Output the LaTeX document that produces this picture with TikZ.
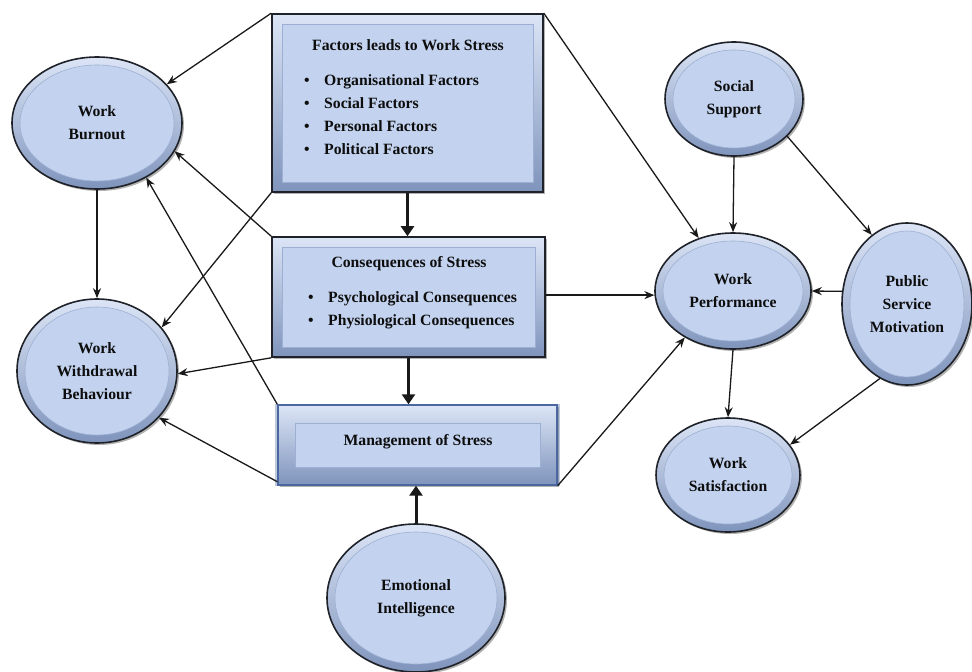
\documentclass[tikz,border=0pt]{standalone}
\usepackage{fontspec}
\setmainfont{Liberation Serif}
\usetikzlibrary{arrows.meta,shadows,calc,shapes.geometric}

\definecolor{face}{HTML}{C3D3EF}
\definecolor{rimlight}{HTML}{DCE5F6}
\definecolor{rimdark}{HTML}{7F94BC}
\definecolor{edge}{HTML}{1F2228}
\definecolor{hairline}{HTML}{9DB0D3}
\definecolor{blueedge}{HTML}{4A67A0}

\tikzset{
  labeltext/.style={font=\bfseries\fontsize{15.7}{23}\selectfont, text=black!95, inner sep=0pt},
  bubble/.style={ellipse, draw=edge, line width=1.6pt, top color=rimlight, bottom color=rimdark,
    drop shadow={shadow xshift=2pt, shadow yshift=-2pt, opacity=.3, fill=black}, inner sep=0pt},
  bubface/.style={ellipse, fill=face, draw=hairline, line width=.6pt, inner sep=0pt,
    labeltext, align=center},
  panel/.style={rectangle, draw=edge, line width=1.6pt, top color=rimlight, bottom color=rimdark,
    drop shadow={shadow xshift=2pt, shadow yshift=-2pt, opacity=.3, fill=black}, inner sep=0pt},
  panelface/.style={rectangle, fill=face, draw=hairline, line width=.6pt, inner sep=0pt},
  link/.style={-{Stealth[length=10pt,width=8pt]}, line width=1.3pt, draw=black!90},
  flow/.style={-{Triangle[length=10pt,width=13pt]}, line width=3pt, draw=black!90},
}

% name, x, y, width, height, text
\newcommand\bubblenode[6]{%
  \pgfmathsetmacro\facew{#4-16}%
  \pgfmathsetmacro\faceh{#5-16}%
  \node[bubble, minimum width=#4pt, minimum height=#5pt] (#1) at (#2,#3) {};
  \node[bubface, minimum width=\facew pt, minimum height=\faceh pt] (#1-face) at (#1.center) {#6};
}

\newcommand\bulletline[1]{\makebox[20pt][l]{\textbullet}#1}

\begin{document}
\begin{tikzpicture}[x=1pt,y=-1pt]
\useasboundingbox (0,0) rectangle (972,672);
\fill[white] (0,0) rectangle (972,672);

% ---- stress panels ----
\node[panel, minimum width=271pt, minimum height=178pt] (fac) at (407.5,103) {};
\node[panelface, minimum width=251pt, minimum height=158pt] (fac-face) at (fac.center) {};
\node[labeltext] (fac-title) at (408,45) {Factors leads to Work Stress};
\node[labeltext, align=left, anchor=west] (fac-list) at (304,115)
  {\bulletline{Organisational Factors}\\ \bulletline{Social Factors}\\
   \bulletline{Personal Factors}\\ \bulletline{Political Factors}};

\node[panel, minimum width=273pt, minimum height=120pt] (con) at (408.5,297) {};
\node[panelface, minimum width=253pt, minimum height=100pt] (con-face) at (con.center) {};
\node[labeltext] (con-title) at (409,264) {Consequences of Stress};
\node[labeltext, align=left, anchor=west] (con-list) at (308,310)
  {\bulletline{Psychological Consequences}\\ \bulletline{Physiological Consequences}};

\node[panel, draw=blueedge, line width=1.4pt, minimum width=279pt, minimum height=80pt,
  drop shadow={shadow xshift=0pt, shadow yshift=0pt, shadow scale=1.02, opacity=.35, fill=blueedge}] (mgmt) at (417.5,445) {};
\node[panelface, minimum width=245pt, minimum height=44pt] (mgmt-face) at (mgmt.center) {};
\node[labeltext] (mgmt-title) at (418,442) {Management of Stress};

% ---- outcome and moderator bubbles ----
\bubblenode{wb}{97}{123}{170}{132}{Work\\Burnout}
\bubblenode{wwb}{97}{371}{160}{144}{Work\\Withdrawal\\Behaviour}
\bubblenode{ei}{416}{598}{178}{148}{Emotional\\Intelligence}
\bubblenode{ss}{734}{99}{138}{114}{Social\\Support}
\bubblenode{wp}{733}{291}{156}{116}{Work\\Performance}
\bubblenode{psm}{907}{304}{130}{162}{Public\\Service\\Motivation}
\bubblenode{ws}{728}{475}{144}{114}{Work\\Satisfaction}

% ---- main flow ----
\draw[flow] (fac.south) -- (fac.south |- con.north);
\draw[flow] (con.south) -- (con.south |- mgmt.north);
\draw[flow] (ei.north) -- (ei.north |- mgmt.south);

% ---- links to the left ----
\draw[link] (fac.north west) -- (wb.29);
\draw[link] (con.north west) -- (wb.-20);
\draw[link] (mgmt.north west) -- (wb.-48);
\draw[link] (fac.south west) -- (wwb.34);
\draw[link] (con.south west) -- (wwb.-2);
\draw[link] ($(mgmt.south west)+(0,-4)$) -- (wwb.-37);
\draw[link] (wb.south) -- (wwb.north);

% ---- links to the right ----
\draw[link] (fac.north east) -- (wp.123);
\draw[link] (con.east |- wp.183) -- (wp.183);
\draw[link] (mgmt.south east) -- (wp.-136);
\draw[link] (ss.south) -- (wp.north);
\draw[link] (ss.-35) -- (psm.117);
\draw[link] (psm.169) -- (wp.east);
\draw[link] (wp.south) -- (ws.north);
\draw[link] (psm.-110) -- (ws.26);
\end{tikzpicture}
\end{document}
